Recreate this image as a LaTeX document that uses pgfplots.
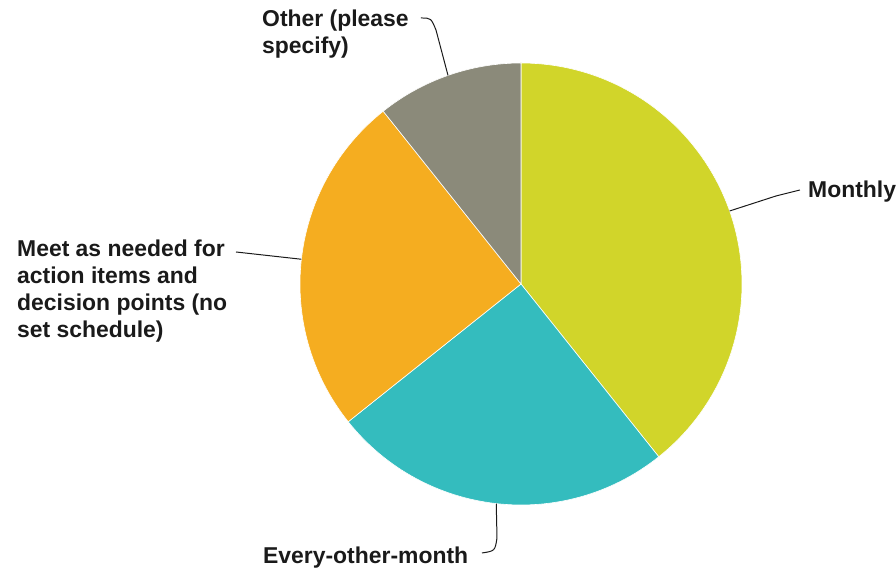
\documentclass[border=0pt]{standalone}
\usepackage{pgfplots}
\pgfplotsset{compat=1.18}
\usepackage{pgfplotstable}
\usepackage{fontspec}
\setmainfont{Liberation Sans}

\definecolor{cmonthly}{HTML}{D1D52A}
\definecolor{cevery}{HTML}{34BCBE}
\definecolor{cmeet}{HTML}{F5AD20}
\definecolor{cother}{HTML}{8B8A7A}
\definecolor{ctext}{HTML}{1A1A1A}

% responses per answer, clockwise from 12 o'clock
\pgfplotstableread{
count color
11 cmonthly
7 cevery
7 cmeet
3 cother
}\piedata

\tikzset{lab/.style={font=\fontsize{23}{27}\selectfont\bfseries, text=ctext, inner sep=0pt, align=left}}

\begin{document}
\begin{tikzpicture}
\begin{axis}[
    x=1bp, y=1bp,
    xmin=0, xmax=896, ymin=0, ymax=573,
    hide axis, clip=false,
]
\pgfplotsextra{
    \path (axis cs:0,0) rectangle (axis cs:896,573);
    \pgfplotstablegetrowsof{\piedata}
    \pgfmathtruncatemacro\nrows{\pgfplotsretval-1}
    \gdef\total{0}
    \foreach \i in {0,...,\nrows} {
        \pgfplotstablegetelem{\i}{count}\of\piedata
        \pgfmathsetmacro\t{\total+\pgfplotsretval}
        \xdef\total{\t}
    }
    \gdef\start{90}
    \foreach \i in {0,...,\nrows} {
        \pgfplotstablegetelem{\i}{count}\of\piedata
        \pgfmathsetmacro\sweep{360*\pgfplotsretval/\total}
        \pgfplotstablegetelem{\i}{color}\of\piedata
        \let\col\pgfplotsretval
        \pgfmathsetmacro\stop{\start-\sweep}
        \pgfmathsetmacro\mid{\start-\sweep/2}
        \fill[\col, draw=white, line width=0.6pt] (axis cs:521,289) -- ++(\start:221bp)
            arc[start angle=\start, end angle=\stop, radius=221bp] -- cycle;
        \path (axis cs:521,289) ++(\mid:221bp) coordinate (m\i);
        \xdef\start{\stop}
    }
    \draw[ctext, line width=1pt] (m0) -- (axis cs:776,377) -- (axis cs:800,383);
    \draw[ctext, line width=1pt] (m1) -- (axis cs:497,35) .. controls (axis cs:495,22) .. (axis cs:482,20);
    \draw[ctext, line width=1pt] (m2) -- (axis cs:236,321);
    \draw[ctext, line width=1pt] (m3) -- (axis cs:436,543) .. controls (axis cs:431,555) .. (axis cs:421,555);
}
\node[lab, anchor=base west] at (axis cs:808,375) {Monthly};
\node[lab, anchor=base west] at (axis cs:263,9) {Every-other-month};
\node[lab, anchor=north west] at (axis cs:17,333) {Meet as needed for\\action items and\\decision points (no\\set schedule)};
\node[lab, anchor=north west] at (axis cs:262,563) {Other (please\\specify)};
\end{axis}
\end{tikzpicture}
\end{document}
